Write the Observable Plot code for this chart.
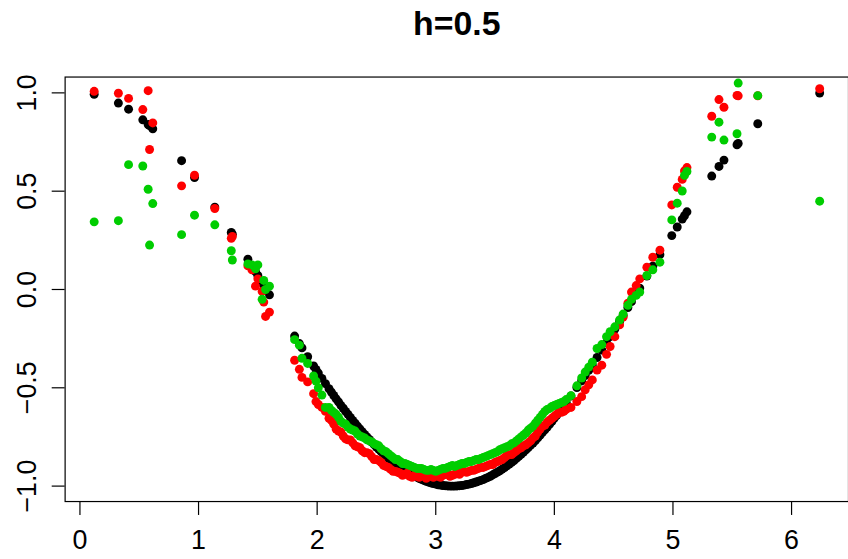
<!DOCTYPE html>
<html><head><meta charset="utf-8">
<script src="https://cdn.jsdelivr.net/npm/d3@7"></script>
<script src="https://cdn.jsdelivr.net/npm/@observablehq/plot@0.6"></script>
<style>html,body{margin:0;padding:0;background:#fff;overflow:hidden;width:848px;height:559px}</style>
</head><body><div id="chart"></div>
<script>
const xValues = [
  0.12, 0.324, 0.41, 0.53, 0.575, 0.587, 0.614, 0.857, 0.966, 1.137,
  1.276, 1.285, 1.416, 1.45, 1.48, 1.50, 1.536, 1.55, 1.565, 1.598,
  1.81, 1.85, 1.872, 1.92, 1.97, 1.99, 2.01, 2.04, 2.07,
  2.10, 2.12, 2.14, 2.16, 2.18, 2.20, 2.22, 2.24, 2.26, 2.28,
  2.30, 2.32, 2.34, 2.36, 2.38, 2.40, 2.42, 2.44, 2.46, 2.48,
  2.50, 2.52, 2.54, 2.56, 2.58, 2.60, 2.62, 2.64, 2.66, 2.68,
  2.70, 2.72, 2.74, 2.76, 2.78, 2.80, 2.82, 2.84, 2.86, 2.88,
  2.90, 2.92, 2.94, 2.96, 2.98, 3.00, 3.02, 3.04, 3.06, 3.08,
  3.10, 3.12, 3.14, 3.16, 3.18, 3.20, 3.22, 3.24, 3.26, 3.28,
  3.30, 3.32, 3.34, 3.36, 3.38, 3.40, 3.42, 3.44, 3.46, 3.48,
  3.50, 3.52, 3.54, 3.56, 3.58, 3.60, 3.62, 3.64, 3.66, 3.68,
  3.70, 3.72, 3.74, 3.76, 3.78, 3.80, 3.82, 3.84, 3.86, 3.88,
  3.90, 3.92, 3.94, 3.96, 3.98, 4.00, 4.02, 4.04, 4.06, 4.08, 4.10,
  4.14, 4.19, 4.23, 4.26, 4.29, 4.32, 4.36, 4.40, 4.44, 4.47,
  4.51, 4.55, 4.58, 4.62, 4.65, 4.69, 4.72, 4.78, 4.83, 4.89,
  4.99, 5.036, 5.078, 5.097, 5.118, 5.327, 5.388, 5.43, 5.54, 5.55,
  5.715, 6.237
];
const blackY = [
  0.993, 0.948, 0.917, 0.863, 0.839, 0.833, 0.817, 0.655, 0.569, 0.419,
  0.290, 0.281, 0.154, 0.121, 0.091, 0.071, 0.035, 0.021, 0.006, -0.027,
  -0.237, -0.275, -0.297, -0.342, -0.389, -0.407, -0.425, -0.452, -0.479,
  -0.505, -0.522, -0.539, -0.556, -0.572, -0.589, -0.604, -0.620, -0.635, -0.651,
  -0.666, -0.680, -0.695, -0.709, -0.723, -0.737, -0.750, -0.763, -0.776, -0.789,
  -0.801, -0.813, -0.825, -0.836, -0.847, -0.857, -0.868, -0.877, -0.886, -0.895,
  -0.904, -0.912, -0.920, -0.928, -0.935, -0.942, -0.948, -0.954, -0.961, -0.966,
  -0.971, -0.976, -0.980, -0.984, -0.987, -0.990, -0.993, -0.995, -0.997, -0.998,
  -0.999, -1.000, -1.000, -1.000, -0.999, -0.998, -0.997, -0.995, -0.992, -0.990,
  -0.987, -0.983, -0.979, -0.975, -0.971, -0.967, -0.961, -0.956, -0.950, -0.943,
  -0.936, -0.929, -0.922, -0.914, -0.906, -0.897, -0.888, -0.879, -0.870, -0.859,
  -0.848, -0.838, -0.827, -0.816, -0.804, -0.791, -0.781, -0.768, -0.755, -0.741,
  -0.726, -0.714, -0.700, -0.685, -0.670, -0.654, -0.640, -0.624, -0.608, -0.592, -0.575,
  -0.542, -0.499, -0.465, -0.438, -0.411, -0.384, -0.346, -0.308, -0.270, -0.240,
  -0.201, -0.162, -0.132, -0.092, -0.062, -0.023, 0.007, 0.068, 0.118, 0.177,
  0.274, 0.318, 0.358, 0.375, 0.395, 0.577, 0.626, 0.658, 0.736, 0.743,
  0.843, 0.999
];
const redY = [
  1.008, 0.998, 0.972, 0.915, 1.011, 0.712, 0.847, 0.527, 0.581, 0.412,
  0.260, 0.270, 0.120, 0.100, 0.017, 0.054, -0.010, -0.064, -0.137, -0.115,
  -0.360, -0.406, -0.447, -0.470, -0.530, -0.570, -0.585, -0.600, -0.620,
  -0.655, -0.665, -0.685, -0.710, -0.720, -0.725, -0.745, -0.760, -0.765, -0.765,
  -0.780, -0.795, -0.800, -0.805, -0.820, -0.830, -0.830, -0.835, -0.850, -0.865,
  -0.865, -0.870, -0.880, -0.895, -0.900, -0.905, -0.915, -0.925, -0.925, -0.930,
  -0.935, -0.945, -0.940, -0.935, -0.950, -0.955, -0.945, -0.950, -0.955, -0.945,
  -0.950, -0.960, -0.945, -0.950, -0.955, -0.945, -0.950, -0.955, -0.945, -0.940,
  -0.940, -0.950, -0.945, -0.940, -0.935, -0.940, -0.930, -0.925, -0.930, -0.925,
  -0.920, -0.920, -0.915, -0.910, -0.905, -0.905, -0.900, -0.895, -0.890, -0.890,
  -0.880, -0.875, -0.870, -0.865, -0.855, -0.845, -0.840, -0.840, -0.830, -0.820,
  -0.810, -0.805, -0.795, -0.790, -0.780, -0.770, -0.755, -0.745, -0.725, -0.710,
  -0.695, -0.690, -0.675, -0.665, -0.655, -0.645, -0.635, -0.625, -0.625, -0.620, -0.610,
  -0.600, -0.570, -0.545, -0.510, -0.485, -0.460, -0.410, -0.385, -0.330, -0.290,
  -0.240, -0.180, -0.140, -0.070, -0.013, 0.020, 0.054, 0.113, 0.164, 0.200,
  0.430, 0.520, 0.560, 0.603, 0.620, 0.881, 0.966, 0.927, 0.987, 0.985,
  0.985, 1.021
];
const greenY = [
  0.344, 0.350, 0.635, 0.628, 0.510, 0.226, 0.437, 0.279, 0.378, 0.329,
  0.197, 0.150, 0.130, 0.125, 0.105, 0.125, -0.050, 0.046, 0.000, 0.017,
  -0.255, -0.283, -0.350, -0.376, -0.440, -0.466, -0.500, -0.537, -0.600,
  -0.600, -0.615, -0.625, -0.635, -0.650, -0.670, -0.680, -0.685, -0.700, -0.710,
  -0.715, -0.720, -0.735, -0.745, -0.750, -0.755, -0.765, -0.770, -0.775, -0.785,
  -0.790, -0.795, -0.810, -0.820, -0.825, -0.835, -0.845, -0.855, -0.865, -0.865,
  -0.875, -0.885, -0.885, -0.890, -0.895, -0.900, -0.905, -0.910, -0.910, -0.910,
  -0.915, -0.920, -0.920, -0.915, -0.920, -0.925, -0.920, -0.915, -0.910, -0.910,
  -0.905, -0.900, -0.895, -0.900, -0.895, -0.890, -0.885, -0.885, -0.880, -0.875,
  -0.875, -0.870, -0.865, -0.865, -0.860, -0.855, -0.850, -0.845, -0.840, -0.835,
  -0.830, -0.825, -0.815, -0.810, -0.805, -0.800, -0.795, -0.785, -0.780, -0.770,
  -0.760, -0.750, -0.740, -0.730, -0.715, -0.705, -0.695, -0.680, -0.665, -0.650,
  -0.635, -0.620, -0.610, -0.605, -0.595, -0.590, -0.585, -0.580, -0.575, -0.570, -0.560,
  -0.540, -0.490, -0.450, -0.420, -0.395, -0.370, -0.300, -0.280, -0.240, -0.215,
  -0.190, -0.155, -0.125, -0.080, -0.050, -0.030, -0.013, 0.071, 0.100, 0.139,
  0.354, 0.439, 0.501, 0.580, 0.600, 0.775, 0.851, 0.760, 0.792, 1.050,
  0.986, 0.449
];
const xTicks = [0, 1, 2, 3, 4, 5, 6];
const yTicks = [-1, -0.5, 0, 0.5, 1];
const yTickLabels = ["−1.0", "−0.5", "0.0", "0.5", "1.0"];
const title = "h=0.5";

const toRows = ys => xValues.map((x, i) => ({x, y: ys[i]}));
const font = "'Liberation Sans', Arial, Helvetica, sans-serif";

const plot = Plot.plot({
  width: 853, height: 559,
  marginLeft: 65, marginRight: 0, marginTop: 77, marginBottom: 55,
  style: {fontFamily: font, background: "#fff", overflow: "hidden"},
  x: {domain: [-0.125, 6.48], axis: null},
  y: {domain: [-1.0785, 1.0805], axis: null},
  marks: [
    Plot.dot(toRows(blackY), {x: "x", y: "y", r: 4.5, fill: "#000000"}),
    Plot.dot(toRows(redY), {x: "x", y: "y", r: 4.5, fill: "#FF0000"}),
    Plot.dot(toRows(greenY), {x: "x", y: "y", r: 4.5, fill: "#00CD00"}),
    Plot.frame({stroke: "#000", strokeWidth: 1.2}),
    Plot.axisX({ticks: xTicks, tickSize: 14, tickPadding: 15, fontSize: 27, tickFormat: d => String(d), label: null, stroke: "#000", strokeWidth: 1.2, fill: "#000"}),
    Plot.axisY({ticks: yTicks, tickSize: 13, tickFormat: () => "", label: null, stroke: "#000", strokeWidth: 1.2}),
    Plot.text(yTicks, {y: d => d, text: (d, i) => yTickLabels[i], frameAnchor: "left", dx: -38, rotate: -90, fontSize: 27, textAnchor: "middle", lineAnchor: "middle", fill: "#000"}),
    Plot.text([title], {frameAnchor: "top", dy: -42, lineAnchor: "bottom", fontSize: 34, fontWeight: "bold", fill: "#000"})
  ]
});
document.getElementById("chart").appendChild(plot);
</script>
</body></html>
